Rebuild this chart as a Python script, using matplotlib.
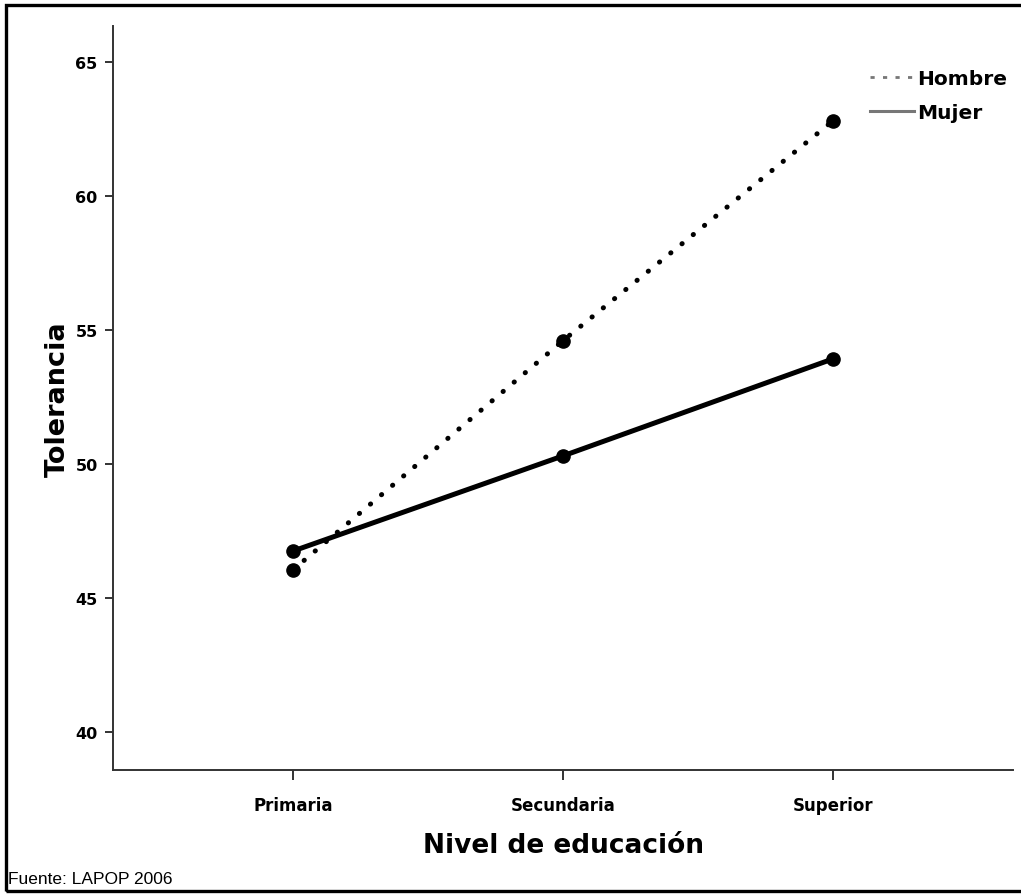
import matplotlib
matplotlib.use("Agg")
import matplotlib.pyplot as plt
from matplotlib.lines import Line2D
from matplotlib.patches import Rectangle

# Tolerance by education level and sex (LAPOP 2006)
niveles = ["Primaria", "Secundaria", "Superior"]
hombre = [46.05, 54.6, 62.8]
mujer = [46.75, 50.3, 53.92]
yticks = [40, 45, 50, 55, 60, 65]

W, H = 1021, 895
fig = plt.figure(figsize=(W / 100, H / 100), dpi=100)
fig.patch.set_facecolor("white")

# axes box in pixel terms
left, right, top, bottom = 113, 1013, 27, 771
ax = fig.add_axes([left / W, (H - bottom) / H, (right - left) / W, (bottom - top) / H])

x = list(range(len(niveles)))

ax.plot(x, hombre, color="black", lw=3.6, linestyle=(0, (0.05, 2.85)),
        dash_capstyle="round", marker="o", markersize=9.5, zorder=3)
ax.plot(x, mujer, color="black", lw=3.6, solid_capstyle="round",
        marker="o", markersize=9.5, zorder=3)

ax.set_xlim(-0.667, 2.667)
ax.set_ylim(38.58, 66.34)
ax.set_xticks(x)
ax.set_xticklabels(niveles)
ax.set_yticks(yticks)

for side in ["top", "right"]:
    ax.spines[side].set_visible(False)
for side in ["left", "bottom"]:
    ax.spines[side].set_color("#333333")
    ax.spines[side].set_linewidth(1.4)

ax.tick_params(axis="both", direction="out", color="#333333", width=1.4)
ax.tick_params(axis="y", length=6, pad=5)
ax.tick_params(axis="x", length=7, pad=12)
for lab in ax.get_xticklabels():
    lab.set_fontweight("bold")
    lab.set_fontsize(12)
for lab in ax.get_yticklabels():
    lab.set_fontweight("bold")
    lab.set_fontsize(11.5)

ax.set_xlabel("Nivel de educación", fontsize=19, fontweight="bold", labelpad=13)
ax.set_ylabel("Tolerancia", fontsize=19.5, fontweight="bold", labelpad=3)

# legend with grey sample lines
handles = [
    Line2D([], [], color="#777777", lw=2, linestyle=(0, (1.5, 3))),
    Line2D([], [], color="#777777", lw=2.2),
]
leg = fig.legend(handles, ["Hombre", "Mujer"], loc="upper right",
                 bbox_to_anchor=(1025 / W, 1 - 52 / H), frameon=False,
                 handlelength=2.2, handletextpad=0.15, labelspacing=0.72,
                 prop={"weight": "bold", "size": 14.5})

fig.text(8 / W, 1 - 880 / H, "Fuente: LAPOP 2006", fontsize=12.5,
         family="Liberation Sans", va="center", ha="left")

# outer frame
fig.patches.append(Rectangle((6 / W, 3 / H), 1.2, 1 - 9 / H,
                             transform=fig.transFigure, fill=False,
                             edgecolor="black", lw=2.4))

fig.savefig("out.png", dpi=100)
